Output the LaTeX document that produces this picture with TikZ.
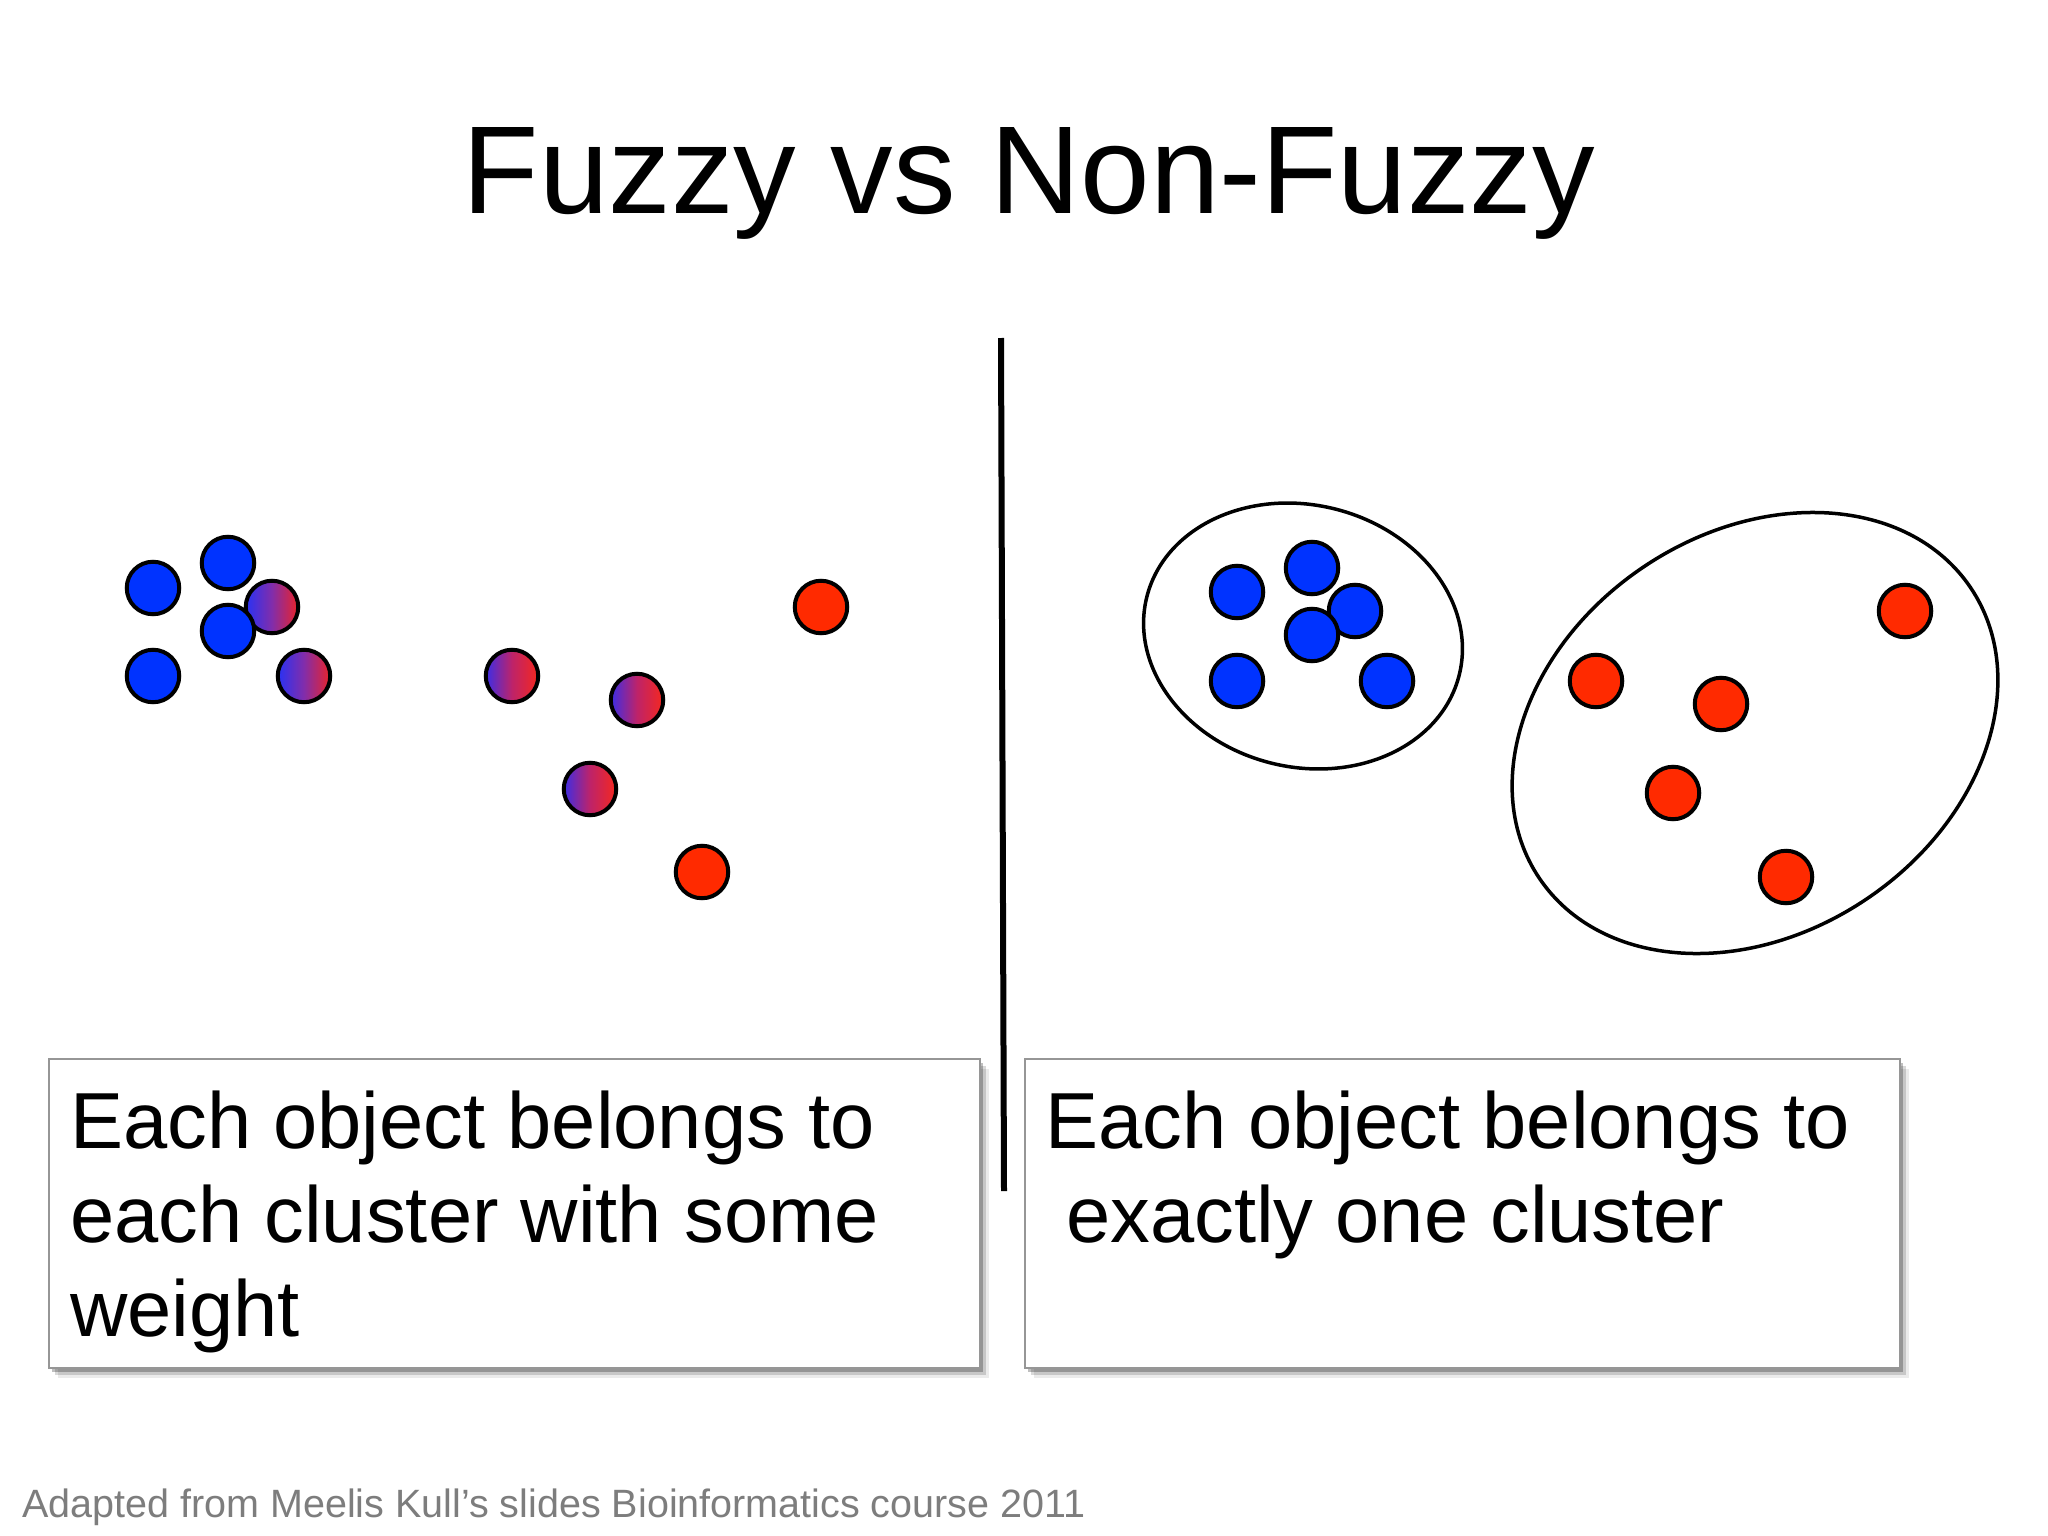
\documentclass[tikz,border=0pt]{standalone}
\usepackage{fontspec}
\setmainfont{Liberation Sans}
\usetikzlibrary{shadows}
\definecolor{cblue}{RGB}{0,51,255}
\definecolor{cred}{RGB}{255,42,0}
\definecolor{gAl}{RGB}{40,50,245}
\definecolor{gAm}{RGB}{130,45,170}
\definecolor{gAr}{RGB}{235,35,40}
\definecolor{gBl}{RGB}{60,45,230}
\definecolor{gBm}{RGB}{190,35,105}
\definecolor{gBr}{RGB}{245,40,30}
\definecolor{boxgray}{RGB}{150,150,150}
\definecolor{footgray}{RGB}{125,125,125}
\tikzset{
  dot/.style={circle, draw=black, line width=4pt, minimum size=52.5pt, inner sep=0pt},
  bluedot/.style={dot, fill=cblue},
  reddot/.style={dot, fill=cred},
  fuzzyA/.style={dot, left color=gAl, right color=gAr, middle color=gAm},
  fuzzyB/.style={dot, left color=gBl, right color=gBr, middle color=gBm},
  panel/.style={draw=boxgray, line width=2pt, fill=white, inner sep=0pt, anchor=north west,
    minimum width=931pt, minimum height=309pt,
    drop shadow={shadow xshift=9pt, shadow yshift=-10pt, fill=black, opacity=0.08},
    drop shadow={shadow xshift=6pt, shadow yshift=-7pt, fill=black, opacity=0.15},
    drop shadow={shadow xshift=3pt, shadow yshift=-4pt, fill=black, opacity=0.25}},
  bodytext/.style={anchor=base west, inner sep=0pt, font=\fontsize{79.5}{94}\selectfont},
  clusterline/.style={draw=black, line width=3.5pt},
}
\begin{document}
\begin{tikzpicture}[x=1pt, y=-1pt]
\useasboundingbox[fill=white] (0,0) rectangle (2048,1536);

% title
\node[anchor=base, inner sep=0pt, font=\fontsize{125}{140}\selectfont] (title) at (1029,213) {Fuzzy vs Non-Fuzzy};

% divider
\coordinate (vtop) at (1001,338);
\coordinate (vbot) at (1004,1191);
\draw[line width=6pt] (vtop) -- (vbot);

% left: fuzzy points
\node[bluedot] (b1) at (153,588) {};
\node[bluedot] (b2) at (228,563) {};
\node[fuzzyA] (f1) at (272,607) {};
\node[bluedot] (b3) at (228,631) {};
\node[bluedot] (b4) at (153,676) {};
\node[fuzzyA] (f2) at (304,676) {};
\node[fuzzyB] (f3) at (512,676) {};
\node[fuzzyB] (f4) at (637,700) {};
\node[fuzzyB] (f5) at (590,789) {};
\node[reddot] (r1) at (821,607) {};
\node[reddot] (r2) at (702,872) {};

% right: crisp clusters
\draw[clusterline, rotate around={-14:(1303,636)}] (1303,636) ellipse [x radius=161pt, y radius=131pt];
\draw[clusterline, rotate around={34:(1755,733)}] (1755,733) ellipse [x radius=260pt, y radius=200pt];

\node[bluedot] (c1) at (1237,592) {};
\node[bluedot] (c2) at (1355,611) {};
\node[bluedot] (c3) at (1312,568) {};
\node[bluedot] (c4) at (1312,635) {};
\node[bluedot] (c5) at (1237,681) {};
\node[bluedot] (c6) at (1387,681) {};

\node[reddot] (d1) at (1905,611) {};
\node[reddot] (d2) at (1596,681) {};
\node[reddot] (d3) at (1721,704) {};
\node[reddot] (d4) at (1673,793) {};
\node[reddot] (d5) at (1786,877) {};

% boxes
\node[panel] (lbox) at (48,1058) {};
\node[panel, minimum width=875pt] (rbox) at (1024,1058) {};

\node[bodytext] (l1) at (70,1148) {Each object belongs to};
\node[bodytext] (l2) at (70,1242) {each cluster with some};
\node[bodytext] (l3) at (70,1336) {weight};

\node[bodytext] (r1t) at (1045,1148) {Each object belongs to};
\node[bodytext] (r2t) at (1066,1242) {exactly one cluster};

% footer
\node[anchor=base west, inner sep=0pt, text=footgray, font=\fontsize{39.5}{45}\selectfont] (credit) at (22,1517) {Adapted from Meelis Kull’s slides Bioinformatics course 2011};
\end{tikzpicture}
\end{document}
